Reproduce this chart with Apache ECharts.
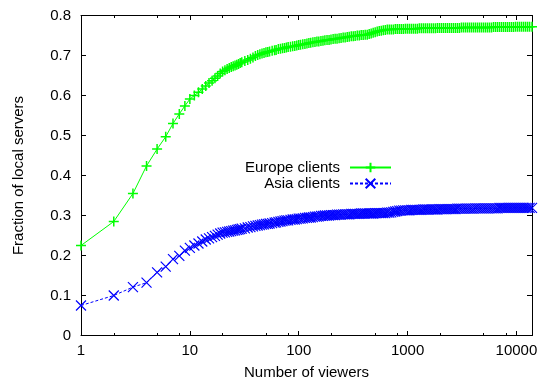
<!DOCTYPE html>
<html>
<head>
<meta charset="utf-8">
<script src="https://cdn.jsdelivr.net/npm/echarts@6/dist/echarts.min.js"></script>
<style>
html,body{margin:0;padding:0;background:#fff;}
#chart{width:539px;height:382px;}
</style>
</head>
<body>
<div id="chart"></div>
<script>
// Number of viewers (x)
const viewers = [
  1,2,3,4,5,6,7,8,9,10,
  11,12,13,14,15,16,17,18,19,20,
  21,22,23,24,25,26,27,28,29,30,
  32,34,36,38,40,42,44,46,48,50,
  52,54,57,60,62,65,68,71,74,77,
  80,84,88,92,96,100,104,109,114,119,
  124,129,135,141,147,153,160,167,174,182,
  190,198,207,216,225,235,245,256,267,279,
  291,304,317,330,345,360,375,391,408,426,
  444,463,483,504,526,549,573,598,624,651,
  679,708,739,771,804,839,875,913,953,994,
  1037,1082,1129,1178,1229,1282,1338,1396,1456,1519,
  1585,1654,1725,1800,1878,1960,2045,2133,2226,2322,
  2423,2528,2637,2752,2871,2995,3125,3260,3402,3549,
  3703,3863,4031,4205,4388,4578,4776,4983,5199,5424,
  5659,5904,6160,6427,6705,6996,7299,7615,7945,8289,
  8648,9023,9414,9822,10247,10691,11154,11638,12142,12668,
  13217,13900
];
// Fraction of local servers, Europe clients
const europe = [
  .225,.285,.355,.424,.466,.497,.530,.554,.574,.591,
  .600,.608,.616,.624,.631,.637,.643,.649,.655,.660,
  .663,.666,.669,.671,.673,.675,.677,.679,.681,.683,
  .686,.689,.692,.695,.699,.701,.703,.705,.706,.708,
  .709,.710,.712,.713,.714,.716,.717,.718,.719,.720,
  .721,.722,.723,.724,.725,.726,.727,.728,.729,.730,
  .731,.732,.733,.734,.735,.735,.736,.737,.738,.739,
  .739,.740,.741,.742,.742,.743,.744,.745,.745,.746,
  .747,.748,.748,.749,.750,.750,.751,.751,.752,.752,
  .754,.755,.757,.758,.760,.761,.762,.763,.764,.765,
  .765,.765,.765,.766,.766,.766,.766,.766,.767,.767,
  .767,.767,.767,.767,.767,.768,.768,.768,.768,.768,
  .768,.768,.768,.768,.769,.769,.769,.769,.769,.769,
  .769,.769,.769,.769,.769,.769,.770,.770,.770,.770,
  .770,.770,.770,.770,.770,.770,.770,.770,.770,.770,
  .770,.770,.771,.771,.771,.771,.771,.771,.771,.771,
  .771,.771,.771,.772,.772,.772,.772,.772,.772,.772,
  .772,.772
];
// Fraction of local servers, Asia clients
const asia = [
  .075,.100,.121,.132,.158,.172,.191,.199,.212,.219,
  .225,.230,.235,.240,.243,.246,.249,.252,.255,.257,
  .258,.259,.260,.261,.262,.263,.264,.265,.266,.267,
  .268,.270,.271,.273,.274,.275,.276,.277,.278,.279,
  .279,.280,.281,.282,.283,.284,.285,.286,.287,.288,
  .288,.289,.290,.290,.291,.292,.292,.293,.294,.294,
  .295,.295,.296,.297,.297,.298,.299,.299,.300,.300,
  .300,.301,.301,.301,.302,.302,.302,.303,.303,.303,
  .303,.304,.304,.304,.304,.304,.305,.305,.305,.305,
  .305,.305,.305,.306,.306,.306,.306,.306,.306,.307,
  .307,.308,.309,.310,.311,.312,.312,.313,.313,.313,
  .313,.314,.314,.314,.314,.314,.314,.315,.315,.315,
  .315,.315,.315,.315,.315,.316,.316,.316,.316,.316,
  .316,.316,.316,.316,.317,.317,.317,.317,.317,.317,
  .317,.317,.317,.318,.318,.318,.318,.318,.318,.318,
  .318,.318,.318,.318,.318,.319,.319,.319,.319,.319,
  .319,.319,.319,.319,.319,.319,.319,.319,.319,.319,
  .319,.319
];
const seriesNames = ['Europe clients', 'Asia clients'];
const xMajorTicks = [1, 10, 100, 1000, 10000];
const xMinorMultipliers = [2, 5, 8];
const yTicks = ['0','0.1','0.2','0.3','0.4','0.5','0.6','0.7','0.8'];

const X_MIN = 1, X_MAX = 13900;
const FONT = 'Liberation Sans';
const FS = 15;

const minorLog = [];
xMajorTicks.forEach(d => xMinorMultipliers.forEach(m => {
  const v = d * m;
  if (v < X_MAX) minorLog.push(Math.log10(v));
}));

function pairs(xs, ys) { return xs.map((x, i) => [x, ys[i]]); }

const plusPath = 'path://M0,5L10,5M5,0L5,10';
const crossPath = 'path://M0,0L10,10M10,0L0,10';

function logLabel(v) {
  const l = Math.log10(v);
  if (Math.abs(l - Math.round(l)) < 1e-6) return String(Math.round(Math.pow(10, l)));
  return '';
}

const chart = echarts.init(document.getElementById('chart'), null, {renderer: 'canvas'});
chart.setOption({
  animation: false,
  backgroundColor: '#fff',
  textStyle: {fontFamily: FONT},
  grid: {left: 81, right: 7, top: 15.5, bottom: 46.5, containLabel: false, outerBoundsMode: 'none'},
  legend: {
    data: seriesNames,
    orient: 'vertical',
    align: 'right',
    right: 147,
    top: 160,
    padding: 0,
    itemGap: 1,
    itemWidth: 41,
    itemHeight: 12,
    selectedMode: false,
    textStyle: {fontFamily: FONT, fontSize: FS, color: '#000', padding: [0, 5, 0, 0]}
  },
  xAxis: [
    {
      type: 'log', logBase: 10, min: X_MIN, max: X_MAX, position: 'bottom',
      name: 'Number of viewers', nameLocation: 'middle', nameGap: 30,
      nameTextStyle: {fontFamily: FONT, fontSize: FS, color: '#000'},
      axisLine: {show: true, onZero: false, lineStyle: {color: '#000', width: 1}},
      axisTick: {show: true, inside: true, length: 4.5, lineStyle: {color: '#000', width: 1}},
      axisLabel: {show: true, margin: 8, fontFamily: FONT, fontSize: FS, color: '#000', formatter: logLabel},
      splitLine: {show: false}, minorTick: {show: false}
    },
    {
      type: 'log', logBase: 10, min: X_MIN, max: X_MAX, position: 'top',
      axisLine: {show: true, onZero: false, lineStyle: {color: '#000', width: 1}},
      axisTick: {show: true, inside: true, length: 4.5, lineStyle: {color: '#000', width: 1}},
      axisLabel: {show: false}, splitLine: {show: false}
    },
    {
      type: 'value', min: 0, max: Math.log10(X_MAX), position: 'bottom',
      axisLine: {show: false, onZero: false},
      axisTick: {show: true, inside: true, length: 2.5, customValues: minorLog, lineStyle: {color: '#000', width: 1}},
      axisLabel: {show: false}, splitLine: {show: false}
    },
    {
      type: 'value', min: 0, max: Math.log10(X_MAX), position: 'top',
      axisLine: {show: false, onZero: false},
      axisTick: {show: true, inside: true, length: 2.5, customValues: minorLog, lineStyle: {color: '#000', width: 1}},
      axisLabel: {show: false}, splitLine: {show: false}
    }
  ],
  yAxis: [
    {
      type: 'value', min: 0, max: 0.8, interval: 0.1, position: 'left',
      name: 'Fraction of local servers', nameLocation: 'middle', nameGap: 55,
      nameTextStyle: {fontFamily: FONT, fontSize: FS, color: '#000'},
      axisLine: {show: true, onZero: false, lineStyle: {color: '#000', width: 1}},
      axisTick: {show: true, inside: true, length: 5, lineStyle: {color: '#000', width: 1}},
      axisLabel: {show: true, margin: 10, fontFamily: FONT, fontSize: FS, color: '#000',
        formatter: (v) => yTicks[Math.round(v * 10)] || ''},
      splitLine: {show: false}
    },
    {
      type: 'value', min: 0, max: 0.8, interval: 0.1, position: 'right',
      axisLine: {show: true, onZero: false, lineStyle: {color: '#000', width: 1}},
      axisTick: {show: true, inside: true, length: 5, lineStyle: {color: '#000', width: 1}},
      axisLabel: {show: false}, splitLine: {show: false}
    }
  ],
  series: [
    {
      name: seriesNames[0], type: 'line', xAxisIndex: 0, yAxisIndex: 0,
      data: pairs(viewers, europe),
      color: '#00ff00',
      symbol: plusPath, symbolSize: 10, showAllSymbol: true, clip: false,
      lineStyle: {color: '#00ff00', width: 1},
      itemStyle: {color: '#00ff00', borderColor: '#00ff00', borderWidth: 1.5},
      emphasis: {disabled: true}, silent: true
    },
    {
      name: seriesNames[1], type: 'line', xAxisIndex: 0, yAxisIndex: 0,
      data: pairs(viewers, asia),
      color: '#0000ff',
      symbol: crossPath, symbolSize: 10, showAllSymbol: true, clip: false,
      lineStyle: {color: '#0000ff', width: 1, type: [3, 2]},
      itemStyle: {color: '#0000ff', borderColor: '#0000ff', borderWidth: 1.2},
      emphasis: {disabled: true}, silent: true
    }
  ]
});
</script>
</body>
</html>
